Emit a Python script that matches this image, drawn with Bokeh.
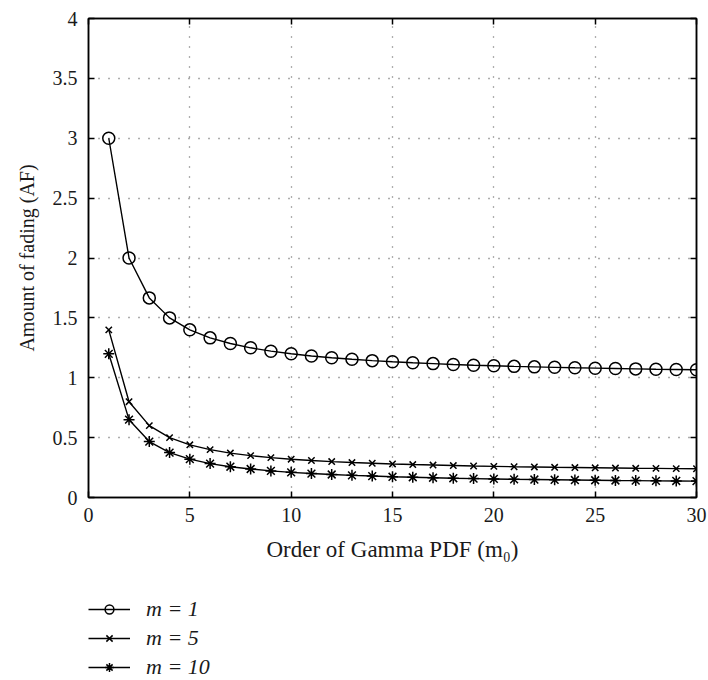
from bokeh.plotting import figure
from bokeh.layouts import column
from bokeh.models import (Range1d, LinearAxis, FixedTicker, Legend, LegendItem,
                          CustomJSTickFormatter)
from bokeh.embed import file_html
from bokeh.resources import INLINE

m0 = list(range(1, 31))
af_m1 = [3.0, 2.0, 1.667, 1.5, 1.4, 1.333, 1.286, 1.25, 1.222, 1.2,
         1.182, 1.167, 1.154, 1.143, 1.133, 1.125, 1.118, 1.111, 1.105, 1.1,
         1.095, 1.091, 1.087, 1.083, 1.08, 1.077, 1.074, 1.071, 1.069, 1.067]
af_m5 = [1.4, 0.8, 0.6, 0.5, 0.44, 0.4, 0.371, 0.35, 0.333, 0.32,
         0.309, 0.3, 0.292, 0.286, 0.28, 0.275, 0.271, 0.267, 0.263, 0.26,
         0.257, 0.255, 0.252, 0.25, 0.248, 0.246, 0.244, 0.243, 0.241, 0.24]
af_m10 = [1.2, 0.65, 0.467, 0.375, 0.32, 0.283, 0.257, 0.238, 0.222, 0.21,
          0.2, 0.192, 0.185, 0.179, 0.173, 0.169, 0.165, 0.161, 0.158, 0.155,
          0.152, 0.15, 0.148, 0.146, 0.144, 0.142, 0.141, 0.139, 0.138, 0.137]
labels = ["m = 1", "m = 5", "m = 10"]
x_ticks = [0, 5, 10, 15, 20, 25, 30]
y_ticks = [0, 0.5, 1, 1.5, 2, 2.5, 3, 3.5, 4]

FONT = "Liberation Serif"
TXT = "#1a1a1a"

p = figure(frame_width=608, frame_height=479, output_backend="svg", toolbar_location=None,
           x_range=Range1d(0, 30), y_range=Range1d(0, 4),
           min_border_left=88, min_border_right=12, min_border_top=18,
           min_border_bottom=90, x_axis_location=None, y_axis_location=None)
p.outline_line_color = "black"
p.outline_line_width = 1.5
p.background_fill_color = "white"
p.border_fill_color = "white"

fmt = CustomJSTickFormatter(code="return tick.toString();")

def make_axis(ticks, show_labels, label=None, label_size="20px"):
    ax = LinearAxis(ticker=FixedTicker(ticks=ticks), formatter=fmt)
    ax.major_tick_in = 6
    ax.major_tick_out = 0
    ax.minor_tick_line_color = None
    ax.axis_line_color = "black"
    ax.axis_line_width = 1.5
    ax.major_tick_line_color = "black"
    ax.major_tick_line_width = 1.5
    ax.major_label_text_font = FONT
    ax.major_label_text_font_size = "20px"
    ax.major_label_text_color = TXT
    if not show_labels:
        ax.major_label_text_font_size = "0px"
        ax.major_label_text_alpha = 0
        ax.major_label_standoff = 0
    if label:
        ax.axis_label = label
        ax.axis_label_text_font = FONT
        ax.axis_label_text_font_size = label_size
        ax.axis_label_text_font_style = "normal"
        ax.axis_label_text_color = TXT
    return ax

ax_b = make_axis(x_ticks, True, "Order of Gamma PDF (m\u2080)", "23px")
ax_b.major_label_standoff = 10
ax_b.axis_label_standoff = 12
ax_l = make_axis(y_ticks, True, "Amount of fading (AF)", "20px")
ax_l.major_label_standoff = 11
ax_l.axis_label_standoff = 12
ax_t = make_axis(x_ticks, False)
ax_r = make_axis(y_ticks, False)
p.add_layout(ax_l, "left")
p.add_layout(ax_r, "right")
p.add_layout(ax_t, "above")
p.add_layout(ax_b, "below")

p.xgrid.ticker = FixedTicker(ticks=x_ticks)
p.ygrid.ticker = FixedTicker(ticks=y_ticks)
for g in (p.xgrid, p.ygrid):
    g.grid_line_color = "#333333"
    g.grid_line_dash = "1 9"
    g.grid_line_width = 1.3
    g.grid_line_alpha = 0.8

lw = 1.4
series = [(af_m1, "circle", 12), (af_m5, "x", 9), (af_m10, "asterisk", 11)]
for vals, mk, sz in series:
    p.line(m0, vals, line_color="black", line_width=lw)
    p.scatter(m0, vals, marker=mk, size=sz, fill_color=None,
              line_color="black", line_width=1.5)

# legend panel below the plot (same series, drawn out of view; only the key shows)
q = figure(width=708, height=93, output_backend="svg", toolbar_location=None,
           x_range=Range1d(1000, 1001), y_range=Range1d(1000, 1001),
           min_border=0, min_border_left=0, min_border_right=0,
           min_border_top=0, min_border_bottom=0,
           x_axis_location=None, y_axis_location=None)
q.outline_line_color = None
q.xgrid.visible = False
q.ygrid.visible = False
items = []
for (vals, mk, sz), lab in zip(series, labels):
    ln = q.line(m0, vals, line_color="black", line_width=lw)
    sc = q.scatter(m0, vals, marker=mk, size=8, fill_color=None,
                   line_color="black", line_width=1.5)
    items.append(LegendItem(label=lab, renderers=[ln, sc]))

legend = Legend(items=items, location=(0, 0), orientation="vertical")
legend.border_line_color = None
legend.background_fill_alpha = 0
legend.label_text_font = FONT
legend.label_text_font_style = "italic"
legend.label_text_font_size = "22px"
legend.label_text_color = TXT
legend.glyph_width = 42
legend.glyph_height = 22
legend.label_height = 22
legend.spacing = 3
legend.label_standoff = 16
legend.padding = 0
legend.margin = 0
q.add_layout(legend, "center")

layout = column(p, q, spacing=0)
open("out.html", "w").write(file_html(layout, INLINE))
